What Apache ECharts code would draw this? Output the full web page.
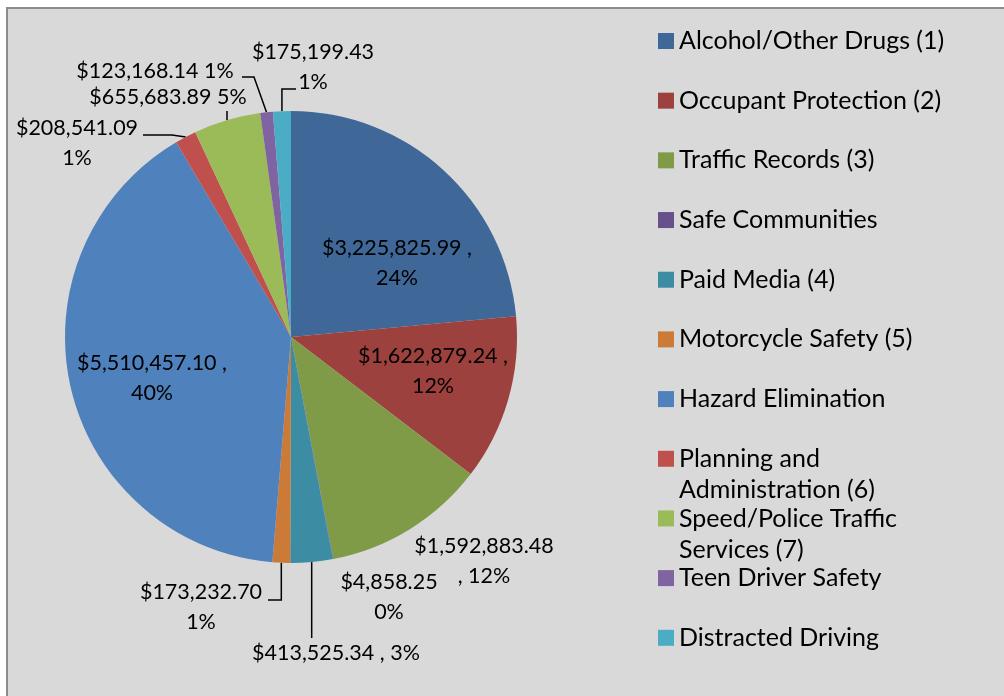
<!DOCTYPE html>
<html><head><meta charset="utf-8">
<script src="https://cdn.jsdelivr.net/npm/echarts@6/dist/echarts.min.js"></script>
<style>
html,body{margin:0;padding:0;background:#fff;overflow:hidden;}
#bg{position:absolute;left:6px;top:7px;width:1010px;height:700px;background:#d9d9d9;border-left:2px solid #8c8c8c;border-top:2px solid #8c8c8c;}
#c{position:absolute;left:0;top:0;width:1004px;height:696px;}
</style>
</head><body><div id="bg"></div><div id="c"></div>
<script>
// ---- data ----
const categories = ['Alcohol/Other Drugs (1)', 'Occupant Protection (2)', 'Traffic Records (3)', 'Safe Communities',
  'Paid Media (4)', 'Motorcycle Safety (5)', 'Hazard Elimination', 'Planning and\nAdministration (6)',
  'Speed/Police Traffic\nServices (7)', 'Teen Driver Safety', 'Distracted Driving'];
const amounts = [3225825.99, 1622879.24, 1592883.48, 4858.25, 413525.34, 173232.70, 5510457.10, 208541.09, 655683.89, 123168.14, 175199.43];
const percentLabels = [24, 12, 12, 0, 3, 1, 40, 1, 5, 1, 1];

// ---- style / layout ----
const colors = ['#3f6797', '#9d413e', '#7f9b48', '#67518a', '#3c8ca3', '#cb7a37', '#4f81bd', '#c0504d', '#9bbb59', '#8064a2', '#4bacc6'];
const labelSeparators = [' ,\n', ' ,\n', '\n, ', '\n', ' , ', '\n', ' ,\n', '\n', ' ', ' ', '\n'];
const insideLabels = [0, 1, 6];
const noLineLabels = [0, 1, 2, 3, 6];
const labelAnchors = [[397,263],[433,371],[484,561],[389,597],[336,653],[201,607],[152,378],[77,143],[168,97],[155,71],[313,67]];
const leaderPaths = {
  4: p => [p, [p[0], 638], [p[0], 638]],
  5: p => [p, [p[0], 600], [268, 600]],
  7: p => [p, [172, 135], [143, 135]],
  8: p => [p, [p[0], 111], [p[0], 111]],
  9: p => [p, [254, 77], [242, 77]],
  10: p => [p, [p[0], 89], [296, 89]]
};
const FONT = 'Lato';
const LEGEND_LH = 31;

function money(v) {
  return '$' + v.toLocaleString('en-US', {minimumFractionDigits: 2, maximumFractionDigits: 2});
}

const chart = echarts.init(document.getElementById('c'));
chart.setOption({
  backgroundColor: 'transparent',
  color: colors,
  animation: false,
  legend: categories.map((name, i) => {
    const multi = name.indexOf('\n') >= 0;
    return {
      data: [name],
      formatter: n => (multi ? '\n' + n : n),
      left: 658,
      top: 41 + i * 59.68 - (multi ? LEGEND_LH * 1.5 : LEGEND_LH / 2),
      orient: 'vertical',
      padding: 0,
      itemWidth: 16,
      itemHeight: 16,
      icon: 'rect',
      selectedMode: false,
      textStyle: {fontFamily: FONT, fontSize: 25, color: '#000', lineHeight: LEGEND_LH}
    };
  }),
  series: [{
    type: 'pie',
    center: [291, 337],
    radius: 226,
    startAngle: 90,
    clockwise: true,
    avoidLabelOverlap: false,
    itemStyle: {borderWidth: 0},
    label: {
      show: true,
      position: 'outside',
      fontFamily: FONT,
      fontSize: 21.5,
      lineHeight: 30,
      color: '#000',
      formatter: p => money(amounts[p.dataIndex]) + labelSeparators[p.dataIndex] + percentLabels[p.dataIndex] + '%'
    },
    labelLine: {show: true, length: 10, length2: 10, lineStyle: {color: '#000', width: 1.5}},
    labelLayout: function (params) {
      const i = params.dataIndex;
      const a = labelAnchors[i];
      const out = {x: a[0], y: a[1], align: 'center', verticalAlign: 'middle'};
      if (leaderPaths[i] && params.labelLinePoints) {
        out.labelLinePoints = leaderPaths[i](params.labelLinePoints[0]);
      }
      return out;
    },
    data: categories.map((name, i) => ({
      name: name,
      value: amounts[i],
      label: insideLabels.indexOf(i) >= 0 ? {position: 'inside', align: 'center'} : {align: 'center'},
      labelLine: {show: noLineLabels.indexOf(i) < 0}
    }))
  }]
});
</script>
</body></html>
